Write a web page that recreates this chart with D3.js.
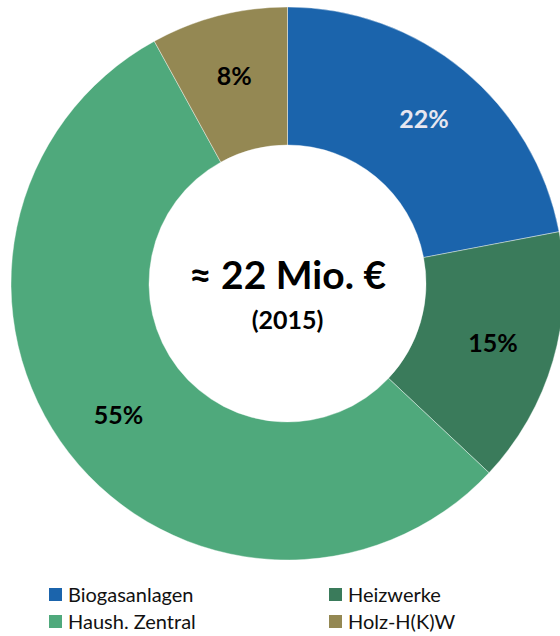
<!DOCTYPE html>
<html>
<head>
<meta charset="utf-8">
<script src="https://cdn.jsdelivr.net/npm/d3@7"></script>
<style>
  body { margin: 0; background: #fff; }
  svg text { font-family: Lato, "Open Sans", sans-serif; }
</style>
</head>
<body>
<div id="donut-graph"></div>
<script>
// slice data, clockwise from 12 o'clock
var categories = ['Biogasanlagen', 'Heizwerke', 'Haush. Zentral', 'Holz-H(K)W'];
var shares = [22, 15, 55, 8];
var colors = ['#1B64AC', '#3A7B5B', '#4FA97C', '#948853'];
var labelColors = ['#E6E6F0', '#000', '#000', '#000'];
var centerTitle = '\u2248 22 Mio. \u20AC';
var centerSub = '(2015)';

var width = 560, height = 636;
var cx = 287.5, cy = 283.5;
var outerR = 276.5, innerR = 138.5;

var svg = d3.select('#donut-graph')
    .append('svg')
    .attr('width', width)
    .attr('height', height);

var g = svg.append('g')
    .attr('transform', 'translate(' + cx + ',' + cy + ')');

var color = d3.scaleOrdinal().domain(categories).range(colors);

var pie = d3.pie()
    .sort(null)
    .value(function(d){ return d.value; });

var data = categories.map(function(c, i){ return {name: c, value: shares[i], idx: i}; });

var arc = d3.arc()
    .innerRadius(innerR)
    .outerRadius(outerR);

var labelArc = d3.arc()
    .innerRadius(214)
    .outerRadius(214);

var arcs = g.selectAll('.arc')
    .data(pie(data))
    .enter()
    .append('g')
    .attr('class', 'arc');

arcs.append('path')
    .attr('d', arc)
    .style('fill', function(d){ return color(d.data.name); })
    .style('stroke', '#fff')
    .style('stroke-width', 0.4);

arcs.append('text')
    .attr('transform', function(d){ return 'translate(' + labelArc.centroid(d) + ')'; })
    .attr('text-anchor', 'middle')
    .attr('dy', '0.36em')
    .style('font-size', '25px')
    .style('font-weight', 'bold')
    .style('fill', function(d){ return labelColors[d.data.idx]; })
    .text(function(d){ return d.data.value + '%'; });

// centre text
g.append('text')
    .attr('text-anchor', 'middle')
    .attr('y', 5)
    .style('font-size', '39px')
    .style('font-weight', 'bold')
    .style('fill', '#000')
    .text(centerTitle);

g.append('text')
    .attr('text-anchor', 'middle')
    .attr('y', 45)
    .style('font-size', '25px')
    .style('font-weight', 'bold')
    .style('fill', '#000')
    .text(centerSub);

// legend, 2 columns
var legendX = d3.scaleOrdinal().domain([0, 1]).range([49, 329]);
var legendY = d3.scaleOrdinal().domain([0, 1]).range([588, 615]);

var legend = svg.selectAll('.legend')
    .data(data)
    .enter()
    .append('g')
    .attr('class', 'legend')
    .attr('transform', function(d, i){
        return 'translate(' + legendX(i % 2) + ',' + legendY(Math.floor(i / 2)) + ')';
    });

legend.append('rect')
    .attr('width', 13)
    .attr('height', 13)
    .style('fill', function(d){ return color(d.name); });

legend.append('text')
    .attr('x', 19)
    .attr('y', 13.5)
    .style('font-size', '20px')
    .style('fill', '#111')
    .text(function(d){ return d.name; });
</script>
</body>
</html>
